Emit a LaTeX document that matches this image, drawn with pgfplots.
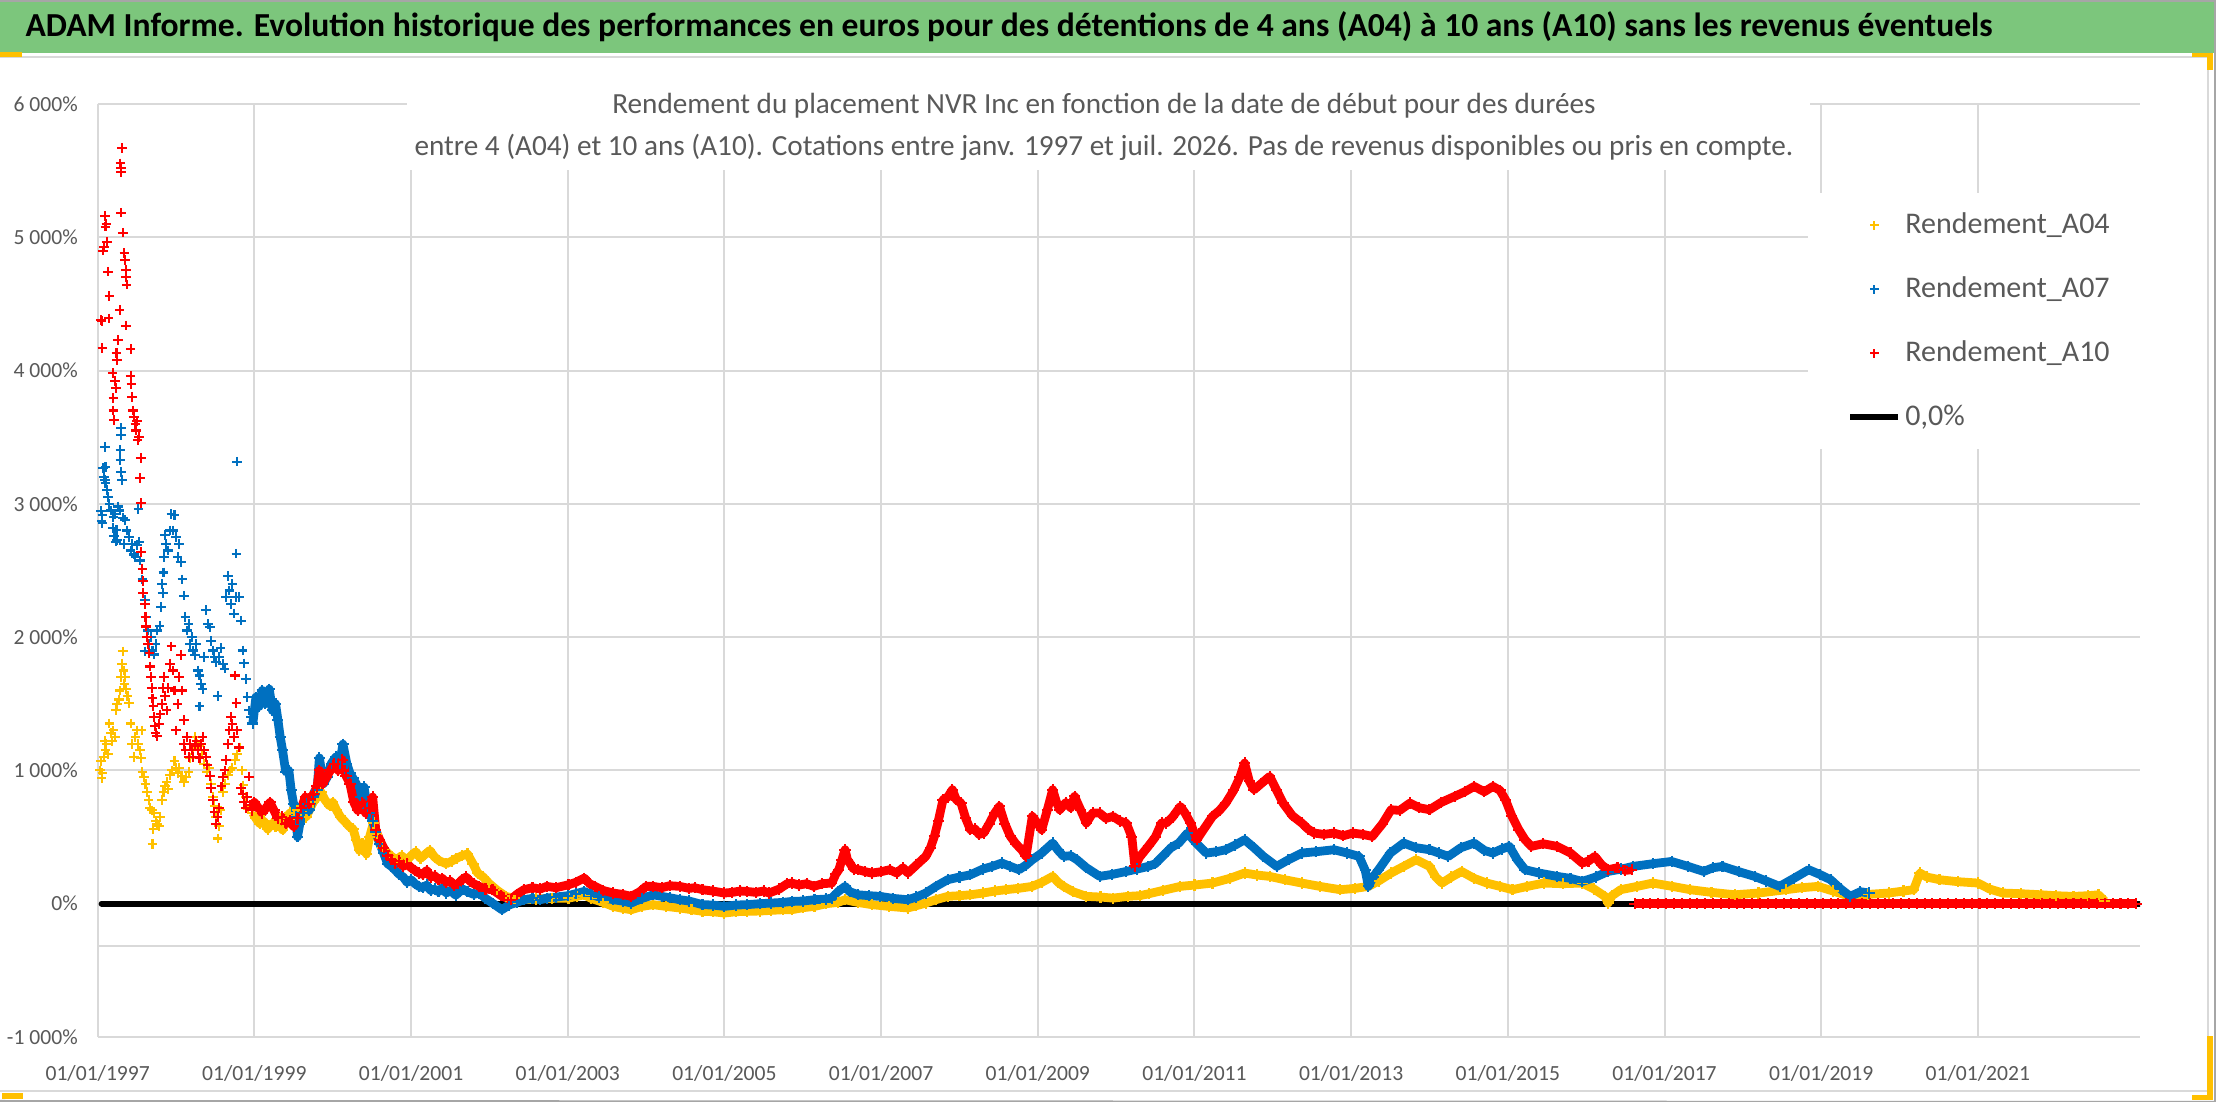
\documentclass[border=0pt]{standalone}
\usepackage{fontspec}
\setmainfont{Carlito}
\usepackage{graphicx}
\usepackage{pgfplots}
\pgfplotsset{compat=1.18}
\usepackage{pgfplotstable}
\definecolor{ygold}{HTML}{FFC000}
\definecolor{xblue}{HTML}{0070C0}
\definecolor{xred}{HTML}{FF0000}
\definecolor{txtgray}{HTML}{595959}
\definecolor{gridgray}{HTML}{D9D9D9}
\definecolor{bargreen}{HTML}{7CC67C}

\pgfplotsset{
  mymarks/.style={only marks, mark=+, mark size=2.4pt, mark options={line width=1.05pt},
    legend image code/.code={\draw[mark repeat=2,mark phase=2,mark size=2.1pt,##1] plot coordinates {(0pt,0pt) (12pt,0pt) (24pt,0pt)};}},
  densemarks/.style={only marks, mark=+, mark size=2.8pt, mark options={line width=1.05pt}, forget plot},
  myband/.style={no markers, line width=4.4pt, line join=round, forget plot},
  blacklegend/.style={legend image code/.code={\draw[##1] (0pt,0pt) -- (24pt,0pt);}},
}

% ---------- A10 (red) ----------
\pgfplotstableread[row sep=\\]{
x y\\
1997.04 4380\\1997.05 4372\\1997.06 4170\\1997.07 4900\\1997.08 4930\\1997.09 5160\\1997.10 5080\\1997.11 5100\\1997.12 4967\\1997.13 4742\\
1997.14 4392\\1997.15 4560\\1997.19 3982\\1997.20 3795\\1997.20 3700\\1997.21 3630\\1997.22 3920\\1997.23 3870\\1997.24 4130\\1997.25 4080\\
1997.26 4230\\1997.28 4455\\1997.29 5555\\1997.30 5520\\1997.30 5490\\1997.31 5668\\1997.30 5185\\1997.32 5035\\1997.34 4880\\1997.35 4830\\
1997.36 4755\\1997.36 4700\\1997.37 4645\\1997.36 4337\\1997.42 4162\\1997.42 3960\\1997.43 3900\\1997.44 3800\\1997.45 3700\\1997.46 3650\\
1997.48 3600\\1997.49 3550\\1997.50 3620\\1997.51 3480\\1997.53 3500\\1997.54 3195\\1997.55 3345\\1997.55 3007\\1997.55 2640\\1997.57 2510\\
1997.58 2420\\1997.58 2330\\1997.60 2250\\1997.61 2150\\1997.62 2080\\1997.63 2000\\1997.64 1950\\1997.66 1880\\1997.67 1780\\1997.68 1700\\
1997.69 1620\\1997.70 1540\\1997.71 1480\\1997.72 1400\\1997.73 1330\\1997.74 1280\\1997.76 1260\\1997.78 1350\\1997.80 1420\\1997.82 1500\\
1997.83 1620\\1997.85 1700\\1997.86 1560\\1997.88 1450\\1997.90 1620\\1997.92 1800\\1997.94 1931\\1997.96 1750\\1997.98 1600\\1998.00 1300\\
1998.02 1500\\1998.04 1700\\1998.06 1867\\1998.08 1600\\1998.10 1378\\1998.10 1200\\1998.12 1150\\1998.14 1250\\1998.16 1100\\1998.18 1200\\
1998.20 1150\\1998.22 1100\\1998.24 1180\\1998.26 1220\\1998.28 1150\\1998.30 1094\\1998.32 1200\\1998.34 1250\\1998.36 1150\\1998.38 1100\\
1998.40 1040\\1998.43 960\\1998.45 870\\1998.47 780\\1998.49 690\\1998.51 600\\1998.53 650\\1998.55 720\\1998.58 880\\1998.60 950\\
1998.62 1000\\1998.64 1080\\1998.66 1200\\1998.68 1300\\1998.70 1400\\1998.72 1350\\1998.74 1250\\1998.75 1712\\1998.77 1506\\1998.78 1300\\
1998.80 1172\\1998.83 870\\1998.85 820\\1998.87 760\\1998.89 720\\1998.91 800\\1998.93 953\\1998.95 740\\
}\redEarly
\pgfplotstableread[row sep=\\]{
x y\\
1998.97 700\\1999.00 760\\1999.05 720\\1999.10 680\\1999.15 720\\1999.20 760\\1999.25 700\\1999.30 640\\1999.35 650\\1999.40 600\\
1999.45 620\\1999.50 580\\1999.55 640\\1999.60 720\\1999.65 800\\1999.70 750\\1999.75 820\\1999.80 880\\1999.83 1000\\1999.87 900\\
1999.92 950\\1999.97 1000\\2000.02 1050\\2000.07 1000\\2000.12 1080\\2000.17 960\\2000.22 900\\2000.27 760\\2000.32 700\\2000.37 760\\
2000.42 680\\2000.47 720\\2000.51 800\\2000.55 550\\2000.60 480\\2000.65 420\\2000.70 360\\2000.75 330\\2000.80 300\\2000.85 320\\
2000.90 280\\2000.95 300\\2001.00 270\\2001.05 250\\2001.10 230\\2001.15 220\\2001.20 250\\2001.25 200\\2001.30 210\\2001.35 180\\
2001.40 190\\2001.45 160\\2001.50 170\\2001.55 140\\2001.60 150\\2001.65 180\\2001.70 200\\2001.75 170\\2001.80 150\\2001.87 130\\
2001.95 110\\2002.04 105\\2002.15 60\\2002.27 30\\2002.35 70\\2002.44 105\\2002.55 120\\2002.65 110\\2002.73 130\\2002.85 120\\
2003.01 142\\2003.10 160\\2003.21 192\\2003.28 150\\2003.35 130\\2003.45 100\\2003.58 80\\2003.70 70\\2003.81 55\\2003.92 90\\
2004.00 130\\2004.09 130\\2004.20 120\\2004.30 135\\2004.43 130\\2004.55 115\\2004.62 120\\2004.72 105\\2004.85 95\\2005.00 80\\
2005.10 85\\2005.20 95\\2005.29 92\\2005.40 85\\2005.50 95\\2005.57 80\\2005.70 110\\2005.80 150\\2005.86 155\\2005.95 140\\
2006.05 150\\2006.14 130\\2006.25 150\\2006.37 155\\2006.42 220\\2006.46 255\\2006.50 330\\2006.54 405\\2006.57 330\\2006.60 305\\
2006.65 260\\2006.71 255\\2006.80 240\\2006.88 230\\2007.00 240\\2007.11 255\\2007.20 230\\2007.28 270\\2007.34 230\\2007.45 290\\
2007.57 355\\2007.63 420\\2007.68 505\\2007.73 620\\2007.79 780\\2007.85 800\\2007.91 855\\2007.96 780\\2008.02 755\\2008.08 640\\
2008.14 555\\2008.20 560\\2008.25 520\\2008.31 530\\2008.38 600\\2008.45 680\\2008.51 730\\2008.58 600\\2008.65 505\\2008.72 450\\
2008.80 400\\2008.85 355\\2008.93 655\\2009.00 600\\2009.05 555\\2009.12 700\\2009.19 855\\2009.24 760\\2009.28 705\\2009.36 760\\
2009.42 720\\2009.47 805\\2009.55 700\\2009.62 605\\2009.70 680\\2009.79 680\\2009.87 640\\2009.96 655\\2010.05 620\\2010.13 605\\
2010.20 500\\2010.24 280\\2010.30 350\\2010.41 430\\2010.50 500\\2010.58 605\\2010.64 605\\2010.72 650\\2010.82 730\\2010.88 680\\
2010.95 605\\2011.03 480\\2011.12 560\\2011.23 655\\2011.32 700\\2011.40 755\\2011.50 850\\2011.58 950\\2011.64 1055\\2011.70 920\\
2011.76 855\\2011.85 900\\2011.96 955\\2012.05 850\\2012.13 755\\2012.25 660\\2012.37 605\\2012.45 560\\2012.53 530\\2012.65 520\\
2012.78 530\\2012.90 510\\2013.02 530\\2013.15 520\\2013.27 505\\2013.40 600\\2013.51 705\\2013.62 700\\2013.75 755\\2013.87 720\\
2014.00 705\\2014.15 760\\2014.32 805\\2014.45 840\\2014.57 880\\2014.70 840\\2014.81 880\\2014.90 850\\2014.97 780\\2015.05 660\\
2015.14 555\\2015.22 480\\2015.30 430\\2015.45 450\\2015.63 430\\2015.80 380\\2015.95 305\\2016.03 320\\2016.11 355\\2016.20 290\\
2016.28 255\\2016.40 270\\2016.50 250\\2016.58 255\\
}\redDense
\pgfplotstableread[row sep=\\]{
x y\\
2016.62 0\\2016.72 0\\2016.82 0\\2016.92 0\\2017.02 0\\2017.12 0\\2017.22 0\\2017.32 0\\2017.42 0\\2017.52 0\\
2017.62 0\\2017.72 0\\2017.82 0\\2017.92 0\\2018.02 0\\2018.12 0\\2018.22 0\\2018.32 0\\2018.42 0\\2018.52 0\\
2018.62 0\\2018.72 0\\2018.82 0\\2018.92 0\\2019.02 0\\2019.12 0\\2019.22 0\\2019.32 0\\2019.42 0\\2019.52 0\\
2019.62 0\\2019.72 0\\2019.82 0\\2019.92 0\\2020.02 0\\2020.12 0\\2020.22 0\\2020.32 0\\2020.42 0\\2020.52 0\\
2020.62 0\\2020.72 0\\2020.82 0\\2020.92 0\\2021.02 0\\2021.12 0\\2021.22 0\\2021.32 0\\2021.42 0\\2021.52 0\\
2021.62 0\\2021.72 0\\2021.82 0\\2021.92 0\\2022.02 0\\2022.12 0\\2022.22 0\\2022.32 0\\2022.42 0\\2022.52 0\\
2022.62 0\\2022.72 0\\2022.82 0\\2022.92 0\\2023.02 0\\
}\redZero

% ---------- A07 (blue) ----------
\pgfplotstableread[row sep=\\]{
x y\\
1997.04 2948\\1997.05 2871\\1997.06 2917\\1997.06 2857\\1997.07 3270\\1997.08 3200\\1997.09 3425\\1997.09 3180\\1997.10 3277\\1997.10 3155\\
1997.12 3105\\1997.13 3052\\1997.15 3000\\1997.17 2950\\1997.19 2820\\1997.20 2900\\1997.21 2760\\1997.22 2922\\1997.23 2717\\1997.24 2805\\
1997.25 2730\\1997.26 2980\\1997.28 2950\\1997.29 3405\\1997.29 3330\\1997.30 3570\\1997.30 3517\\1997.30 3240\\1997.31 3180\\1997.32 2897\\
1997.33 2700\\1997.35 2880\\1997.37 2800\\1997.40 2750\\1997.42 2650\\1997.44 2700\\1997.46 2620\\1997.48 2600\\1997.50 2690\\1997.52 2960\\
1997.53 2717\\1997.54 2575\\1997.55 2640\\1997.57 2433\\1997.58 2330\\1997.60 2279\\1997.60 1893\\1997.62 2150\\1997.64 2050\\1997.66 1950\\
1997.68 2000\\1997.70 1900\\1997.72 1870\\1997.74 1950\\1997.76 2050\\1997.79 2086\\1997.81 2227\\1997.82 2400\\1997.83 2330\\1997.84 2485\\
1997.85 2600\\1997.86 2768\\1997.87 2700\\1997.90 2650\\1997.92 2800\\1997.94 2923\\1997.96 2800\\1997.98 2917\\1998.00 2750\\1998.02 2600\\
1998.04 2700\\1998.06 2562\\1998.08 2433\\1998.10 2312\\1998.12 2150\\1998.14 2050\\1998.16 2100\\1998.18 1950\\1998.20 2000\\1998.22 1900\\
1998.24 1867\\1998.26 1950\\1998.28 1750\\1998.30 1712\\1998.30 1480\\1998.32 1650\\1998.34 1610\\1998.36 1850\\1998.38 2202\\1998.41 2100\\
1998.43 2073\\1998.45 1970\\1998.47 1900\\1998.49 1850\\1998.51 1815\\1998.53 1558\\1998.55 1850\\1998.57 1918\\1998.60 1800\\1998.62 1764\\
1998.64 2300\\1998.66 2460\\1998.68 2350\\1998.70 2250\\1998.72 2400\\1998.74 2176\\1998.76 2300\\1998.77 2627\\1998.78 3317\\1998.80 2300\\
1998.83 2124\\1998.85 1900\\1998.87 1803\\1998.89 1687\\1998.91 1550\\1998.93 1450\\1998.96 1400\\
}\blueEarly
\pgfplotstableread[row sep=\\]{
x y\\
1998.98 1352\\1999.02 1550\\1999.06 1480\\1999.10 1600\\1999.14 1500\\1999.19 1610\\1999.23 1450\\1999.27 1500\\1999.30 1380\\1999.33 1250\\
1999.36 1150\\1999.40 991\\1999.44 1000\\1999.47 850\\1999.50 750\\1999.53 650\\1999.55 502\\1999.58 600\\1999.62 680\\1999.66 750\\
1999.70 700\\1999.75 800\\1999.80 850\\1999.83 1094\\1999.88 900\\1999.93 950\\1999.98 1050\\2000.04 1100\\2000.09 1050\\2000.13 1197\\
2000.18 1050\\2000.22 980\\2000.26 940\\2000.30 900\\2000.35 800\\2000.40 875\\2000.44 720\\2000.47 682\\2000.51 620\\2000.55 540\\
2000.60 450\\2000.65 380\\2000.70 300\\2000.75 280\\2000.80 250\\2000.85 220\\2000.90 200\\2000.95 160\\2001.00 180\\2001.05 150\\
2001.10 130\\2001.15 120\\2001.20 140\\2001.25 100\\2001.30 110\\2001.35 90\\2001.40 120\\2001.45 80\\2001.50 100\\2001.57 64\\
2001.62 90\\2001.66 110\\2001.72 90\\2001.80 70\\2001.87 80\\2001.95 40\\2002.05 0\\2002.16 -45\\2002.25 -10\\2002.35 10\\
2002.44 30\\2002.55 40\\2002.65 30\\2002.73 42\\2002.85 50\\2003.00 60\\2003.10 75\\2003.21 92\\2003.30 70\\2003.40 50\\
2003.58 30\\2003.70 20\\2003.81 5\\2003.95 40\\2004.09 67\\2004.20 55\\2004.30 45\\2004.43 30\\2004.55 20\\2004.72 -7\\
2004.85 -10\\2005.00 -20\\2005.15 -10\\2005.29 -7\\2005.45 0\\2005.60 5\\2005.75 10\\2005.86 17\\2006.00 20\\2006.15 30\\
2006.30 35\\2006.37 42\\2006.45 90\\2006.54 130\\2006.60 90\\2006.71 67\\2006.85 60\\2006.99 55\\2007.15 40\\2007.34 30\\
2007.45 50\\2007.57 80\\2007.70 130\\2007.85 180\\2008.00 200\\2008.14 217\\2008.30 260\\2008.42 280\\2008.54 305\\2008.65 280\\
2008.76 255\\2008.85 290\\2008.93 330\\2009.05 380\\2009.19 455\\2009.26 400\\2009.33 355\\2009.42 360\\2009.50 330\\2009.62 270\\
2009.79 205\\2009.95 220\\2010.13 242\\2010.27 260\\2010.41 280\\2010.50 300\\2010.60 360\\2010.70 420\\2010.80 455\\2010.91 530\\
2011.03 450\\2011.15 380\\2011.28 390\\2011.40 405\\2011.52 440\\2011.64 480\\2011.76 420\\2011.88 355\\2012.05 280\\2012.20 330\\
2012.37 380\\2012.55 390\\2012.78 405\\2012.95 380\\2013.10 355\\2013.18 250\\2013.22 130\\2013.28 200\\2013.35 255\\2013.50 380\\
2013.67 455\\2013.83 420\\2014.00 405\\2014.12 380\\2014.24 355\\2014.40 420\\2014.57 455\\2014.70 400\\2014.81 380\\2014.92 410\\
2015.02 430\\2015.12 330\\2015.22 255\\2015.40 230\\2015.63 205\\2015.80 190\\2015.95 167\\2016.12 200\\2016.28 242\\2016.45 260\\
2016.60 280\\2016.85 300\\2017.09 317\\2017.30 280\\2017.50 242\\2017.62 270\\2017.74 280\\2017.95 240\\2018.15 205\\2018.30 170\\
2018.47 130\\2018.65 190\\2018.84 255\\2018.98 220\\2019.12 180\\2019.25 110\\2019.37 55\\2019.50 90\\2019.61 80\\
}\blueDense

% ---------- A04 (gold) ----------
\pgfplotstableread[row sep=\\]{
x y\\
1997.03 1000\\1997.04 1069\\1997.05 940\\1997.06 980\\1997.08 1100\\1997.09 1223\\1997.10 1150\\1997.11 1200\\1997.13 1120\\1997.15 1352\\
1997.17 1280\\1997.18 1223\\1997.20 1300\\1997.22 1250\\1997.23 1455\\1997.25 1500\\1997.27 1532\\1997.28 1600\\1997.30 1700\\1997.31 1800\\
1997.32 1893\\1997.33 1750\\1997.34 1650\\1997.35 1700\\1997.36 1610\\1997.38 1560\\1997.40 1506\\1997.42 1352\\1997.44 1200\\1997.46 1100\\
1997.48 1250\\1997.50 1300\\1997.52 1200\\1997.54 1150\\1997.55 1094\\1997.56 1300\\1997.57 991\\1997.59 950\\1997.61 900\\1997.63 837\\
1997.65 780\\1997.67 720\\1997.69 700\\1997.70 450\\1997.71 560\\1997.72 682\\1997.74 620\\1997.76 600\\1997.78 580\\1997.80 650\\
1997.82 780\\1997.84 837\\1997.86 880\\1997.88 914\\1997.90 860\\1997.92 966\\1997.95 1000\\1997.98 1069\\1998.00 1020\\1998.02 980\\
1998.04 1017\\1998.07 960\\1998.10 914\\1998.13 950\\1998.16 990\\1998.18 1094\\1998.21 1150\\1998.24 1250\\1998.27 1200\\1998.30 1180\\
1998.33 1120\\1998.36 1050\\1998.39 991\\1998.42 1020\\1998.45 900\\1998.47 800\\1998.49 734\\1998.51 650\\1998.53 489\\1998.55 580\\
1998.57 700\\1998.60 837\\1998.63 900\\1998.66 966\\1998.69 1000\\1998.72 1017\\1998.75 1080\\1998.78 1120\\1998.81 1172\\1998.84 1000\\
1998.86 888\\1998.89 800\\1998.92 708\\1998.95 734\\
}\goldEarly
\pgfplotstableread[row sep=\\]{
x y\\
1998.98 680\\1999.02 640\\1999.07 600\\1999.12 620\\1999.17 560\\1999.22 600\\1999.27 580\\1999.32 640\\1999.36 554\\1999.40 620\\
1999.45 680\\1999.50 660\\1999.55 700\\1999.60 680\\1999.66 650\\1999.70 700\\1999.75 760\\1999.80 800\\1999.85 837\\1999.90 780\\
1999.96 734\\2000.00 760\\2000.05 700\\2000.10 650\\2000.15 620\\2000.21 580\\2000.26 560\\2000.30 480\\2000.34 400\\2000.38 450\\
2000.43 373\\2000.47 500\\2000.52 605\\2000.56 520\\2000.60 450\\2000.64 420\\2000.70 380\\2000.76 350\\2000.82 330\\2000.88 360\\
2000.94 322\\2001.00 360\\2001.06 390\\2001.12 340\\2001.18 370\\2001.24 400\\2001.30 350\\2001.36 322\\2001.45 300\\2001.52 320\\
2001.58 340\\2001.65 360\\2001.72 373\\2001.79 300\\2001.85 230\\2001.92 200\\2002.00 150\\2002.10 100\\2002.21 55\\2002.32 40\\
2002.44 30\\2002.60 35\\2002.80 40\\2003.01 42\\2003.12 55\\2003.21 67\\2003.30 40\\2003.45 10\\2003.58 -20\\2003.70 -35\\
2003.81 -45\\2003.95 -20\\2004.09 -7\\2004.25 -20\\2004.43 -32\\2004.58 -45\\2004.72 -57\\2004.85 -60\\2005.00 -70\\2005.15 -60\\
2005.29 -57\\2005.45 -55\\2005.60 -50\\2005.75 -45\\2005.86 -45\\2006.00 -30\\2006.15 -20\\2006.30 0\\2006.45 10\\2006.54 30\\
2006.70 10\\2006.88 -7\\2007.10 -20\\2007.34 -32\\2007.45 -15\\2007.57 5\\2007.70 30\\2007.85 55\\2008.00 60\\2008.14 67\\
2008.30 80\\2008.45 95\\2008.59 105\\2008.75 115\\2008.93 130\\2009.05 160\\2009.19 205\\2009.26 160\\2009.33 130\\2009.45 90\\
2009.62 55\\2009.80 50\\2009.96 42\\2010.15 55\\2010.30 60\\2010.42 75\\2010.60 100\\2010.82 130\\2011.00 140\\2011.23 155\\
2011.45 190\\2011.64 230\\2011.80 215\\2011.96 205\\2012.15 180\\2012.37 155\\2012.60 130\\2012.86 105\\2013.05 115\\2013.22 130\\
2013.35 170\\2013.51 230\\2013.67 280\\2013.83 330\\2014.00 280\\2014.08 200\\2014.16 155\\2014.28 200\\2014.41 242\\2014.57 190\\
2014.73 155\\2014.90 130\\2015.06 105\\2015.25 130\\2015.46 155\\2015.70 150\\2015.95 155\\2016.10 110\\2016.24 55\\2016.28 5\\
2016.33 60\\2016.44 105\\2016.65 130\\2016.85 155\\2017.10 130\\2017.33 105\\2017.60 85\\2017.90 67\\2018.20 80\\2018.55 105\\
2018.75 120\\2018.96 130\\2019.15 95\\2019.37 55\\2019.60 70\\2019.86 80\\2020.05 95\\2020.18 105\\2020.26 230\\2020.35 200\\
2020.51 180\\2020.75 165\\2021.00 155\\2021.15 110\\2021.32 80\\2021.55 75\\2021.81 67\\2022.00 60\\2022.22 55\\2022.40 60\\
2022.54 67\\2022.62 20\\
}\goldDense

\newcommand\tickfont{\fontsize{10.8pt}{13pt}\selectfont}

\begin{document}
\begin{tikzpicture}
% ---- frame in pixel units (x right, y down) ----
\begin{scope}[x=0.5pt,y=-0.5pt,yshift=551pt]
\fill[white] (0,0) rectangle (2216,1102);
\fill[bargreen] (0,0) rectangle (2216,53);
\draw[gray!70, line width=1pt] (0,1) -- (2216,1);
\draw[gray!70, line width=1pt] (2215,0) -- (2215,1102) -- (0,1101);
\draw[gridgray, line width=1.2pt] (0,57) -- (2208,57) -- (2208,1091) -- (0,1091);
\fill[ygold] (0,52) rectangle (22,57);
\fill[ygold] (2192,53) rectangle (2213,57);
\fill[ygold] (2207,53) rectangle (2213,70);
\fill[ygold] (2207,1036) rectangle (2213,1100);
\fill[ygold] (2192,1095) rectangle (2213,1100);
\fill[ygold] (2,1093) rectangle (23,1099);
\node[anchor=east, inner sep=0pt, font=\bfseries\fontsize{16.8pt}{20pt}\selectfont] at (1993,27)
  {ADAM Informe. Evolution historique des performances en euros pour des détentions de 4 ans (A04) à 10 ans (A10) sans les revenus éventuels};
\end{scope}

\begin{axis}[
  at={(48.85pt,32.5pt)}, anchor=south west,
  scale only axis, width=1021.15pt, height=466.5pt,
  xmin=1997, xmax=2023.07, ymin=-1000, ymax=6000,
  axis line style={draw=none},
  tick style={draw=none},
  xtick={1997,1999,...,2021},
  xticklabels={01/01/1997,01/01/1999,01/01/2001,01/01/2003,01/01/2005,01/01/2007,01/01/2009,01/01/2011,01/01/2013,01/01/2015,01/01/2017,01/01/2019,01/01/2021},
  ytick={-1000,0,1000,2000,3000,4000,5000,6000},
  yticklabels={-1 000\%,0\%,1 000\%,2 000\%,3 000\%,4 000\%,5 000\%,6 000\%},
  extra y ticks={-316}, extra y tick labels={},
  extra y tick style={grid=major, tick style={draw=none}},
  grid=major, major grid style={gridgray, line width=1pt},
  xticklabel style={font=\tickfont, text=txtgray, anchor=center, yshift=-18pt},
  yticklabel style={font=\tickfont, text=txtgray, anchor=east, inner sep=0pt, xshift=-9.8pt},
  legend style={at={(0.8374,0.9046)}, anchor=north west, draw=none, fill=white,
    inner xsep=19.5pt, inner ysep=7pt, font=\fontsize{15pt}{18pt}\selectfont,
    text=txtgray, row sep=14pt,
    nodes={text height=11pt, text depth=3pt, inner sep=2pt}},
  legend cell align=left,
]
% 0 % reference line (drawn first, under the series)
\addplot[black, line width=3pt, line cap=round, forget plot] coordinates {(1997.05,0) (2023.07,0)};

\addplot[myband, ygold] table[x=x,y=y] {\goldDense};
\addplot[mymarks, ygold] table[x=x,y=y] {\goldEarly};
\addlegendentry{Rendement\_A04}
\addplot[densemarks, ygold] table[x=x,y=y] {\goldDense};

\addplot[myband, xblue] table[x=x,y=y] {\blueDense};
\addplot[mymarks, xblue] table[x=x,y=y] {\blueEarly};
\addlegendentry{Rendement\_A07}
\addplot[densemarks, xblue] table[x=x,y=y] {\blueDense};

\addplot[myband, xred] table[x=x,y=y] {\redDense};
\addplot[mymarks, xred] table[x=x,y=y] {\redEarly};
\addlegendentry{Rendement\_A10}
\addplot[densemarks, xred] table[x=x,y=y] {\redDense};
\addplot[myband, xred] table[x=x,y=y] {\redZero};
\addplot[densemarks, xred] table[x=x,y=y] {\redZero};

\addlegendimage{black, line width=3pt, blacklegend}
\addlegendentry{0,0\%}
\end{axis}

% ---- chart title box ----
\begin{scope}[x=0.5pt,y=-0.5pt,yshift=551pt]
\fill[white] (407,84) rectangle (1810,170);
\node[text=txtgray, font=\fontsize{14.6pt}{17pt}\selectfont, inner sep=0pt] at (1104,106)
  {Rendement du placement NVR Inc en fonction de la date de début pour des durées};
\node[text=txtgray, font=\fontsize{14.6pt}{17pt}\selectfont, inner sep=0pt] at (1104,147)
  {entre 4 (A04) et 10 ans (A10). Cotations entre janv. 1997 et juil. 2026. Pas de revenus disponibles ou pris en compte.};
\end{scope}
\pgfresetboundingbox
\path[use as bounding box] (0,0) rectangle (1108pt,551pt);
\end{tikzpicture}
\end{document}
